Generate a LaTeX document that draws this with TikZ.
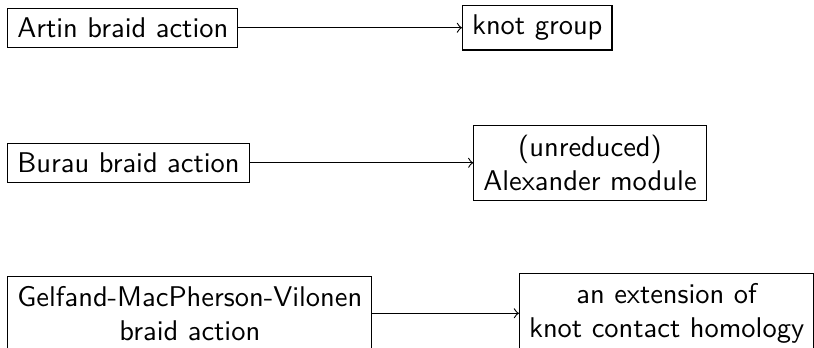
\documentclass[tikz,border=0pt]{standalone}
\begin{document}
\begin{tikzpicture}[x=0.35088pt,y=-0.35088pt,
  box/.style={draw, font=\sffamily, align=center, anchor=west, line width=0.4pt},
  arr/.style={->, line width=0.4pt}]
\useasboundingbox (0,0) rectangle (814,348);
\node[box] (artin) at (7.3,27.7) {Artin braid action};
\node[box] (kg) at (462,27.7) {knot group};
\node[box] (burau) at (7.3,162.8) {Burau braid action};
\node[box] (alex) at (473.3,162.8) {(unreduced)\\Alexander module};
\node[box] (gmv) at (7.3,313.3) {Gelfand-MacPherson-Vilonen\\braid action};
\node[box] (ext) at (519,313.3) {an extension of\\knot contact homology};
\draw[arr] (artin.east) -- (kg.west);
\draw[arr] (burau.east) -- (alex.west);
\draw[arr] (gmv.east) -- (ext.west);
\end{tikzpicture}
\end{document}
